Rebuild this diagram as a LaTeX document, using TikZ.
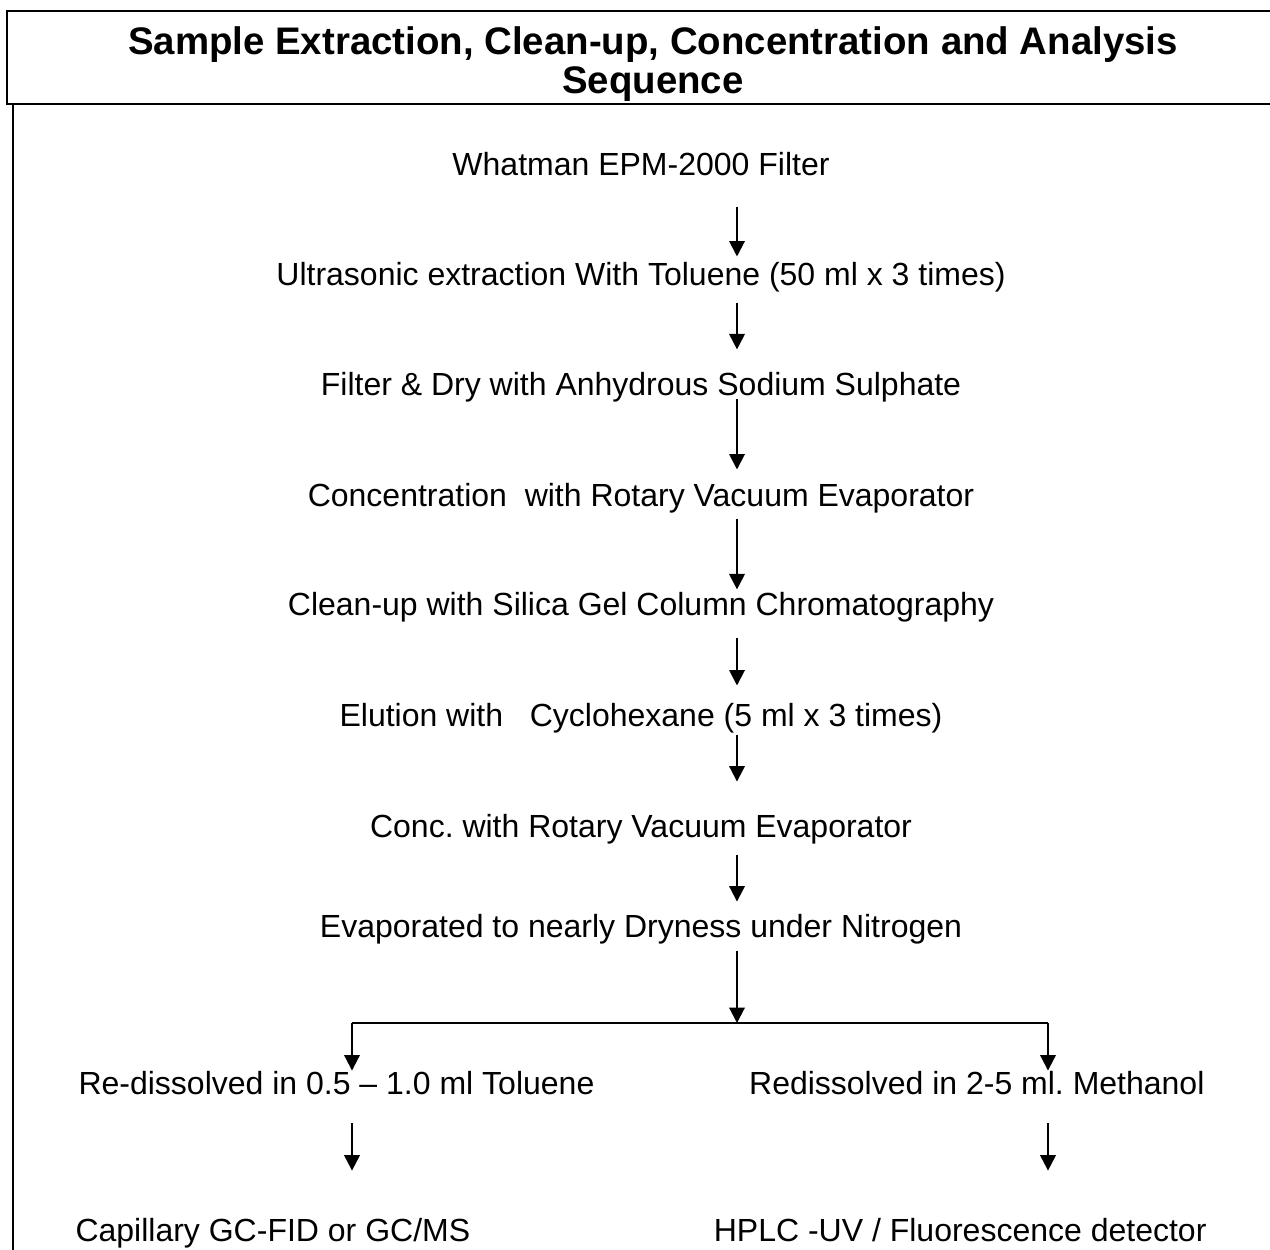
\documentclass[tikz,border=0pt]{standalone}
\usepackage{fontspec}
\setmainfont{Liberation Sans}
\usetikzlibrary{arrows.meta}
\frenchspacing
\tikzset{
    titletext/.style={
        align=center,
        inner sep=0pt,
        font=\fontsize{14.4}{14.8}\selectfont\bfseries
    },
    frame/.style={
        line width=1pt
    },
    stepbox/.style={
        anchor=base,
        inner sep=0pt,
        text height=8.6pt,
        text depth=2.5pt,
        font=\fontsize{12}{14}\selectfont
    },
    flow/.style={
        -{Triangle[width=5.8pt,length=5.8pt]},
        line width=0.75pt
    }
}

\begin{document}
\begin{tikzpicture}[x=0.375pt, y=-0.375pt]
\useasboundingbox (0,0) rectangle (1270,1249);

% heading
\node[titletext] (title) at (653,64) {Sample Extraction, Clean-up, Concentration and Analysis\\Sequence};
\draw[frame] (1300,11) -| (7,104) -- (1300,104);
\draw[frame] (13,104) -- (13,1260);

% steps
\node[stepbox] (filter) at (641,175) {Whatman EPM-2000 Filter};
\node[stepbox] (ultra) at (641,285) {Ultrasonic extraction With Toluene (50 ml x 3 times)};
\node[stepbox] (dry) at (641,395) {Filter \& Dry with Anhydrous Sodium Sulphate};
\node[stepbox] (conc) at (641,506) {Concentration\ \ with Rotary Vacuum Evaporator};
\node[stepbox] (cleanup) at (641,615) {Clean-up with Silica Gel Column Chromatography};
\node[stepbox] (elution) at (641,726) {Elution with\ \ \ Cyclohexane (5 ml x 3 times)};
\node[stepbox] (reconc) at (641,837) {Conc. with Rotary Vacuum Evaporator};
\node[stepbox] (dryness) at (641,937) {Evaporated to nearly Dryness under Nitrogen};

% two branches
\node[stepbox, anchor=base west] (toluene) at (78,1094) {Re-dissolved in 0.5 – 1.0 ml Toluene};
\node[stepbox, anchor=base east] (methanol) at (1205,1094) {Redissolved in 2-5 ml. Methanol};
\node[stepbox, anchor=base west] (gc) at (75,1241) {Capillary GC-FID or GC/MS};
\node[stepbox, anchor=base east] (hplc) at (1207,1241) {HPLC -UV / Fluorescence detector};

\coordinate (spine) at (737,0);
\coordinate (fork) at (737,1023);
\coordinate (forkleft) at (352,1023);
\coordinate (forkright) at (1048,1023);

\foreach \a/\b/\s/\e in {filter/ultra/9.4pt/1.9pt, ultra/dry/4.1pt/8.3pt,
    dry/conc/-1.1pt/4.9pt, conc/cleanup/2.3pt/0.8pt, cleanup/elution/6pt/6.4pt,
    elution/reconc/0.8pt/12pt, reconc/dryness/4.1pt/4.5pt}
    \draw[flow, shorten <=\s, shorten >=\e] (\a.south -| spine) -- (\b.north -| spine);

\draw[flow, shorten <=2.6pt] (dryness.south -| spine) -- (fork);
\draw[line width=0.75pt] (forkleft) -- (forkright);
\draw[flow] (forkleft) -- (toluene.north -| forkleft);
\draw[flow] (forkright) -- (methanol.north -| forkright);
\draw[flow, shorten <=8.3pt, shorten >=17.6pt] (toluene.south -| forkleft) -- (gc.north -| forkleft);
\draw[flow, shorten <=8.3pt, shorten >=17.6pt] (methanol.south -| forkright) -- (hplc.north -| forkright);
\end{tikzpicture}
\end{document}
